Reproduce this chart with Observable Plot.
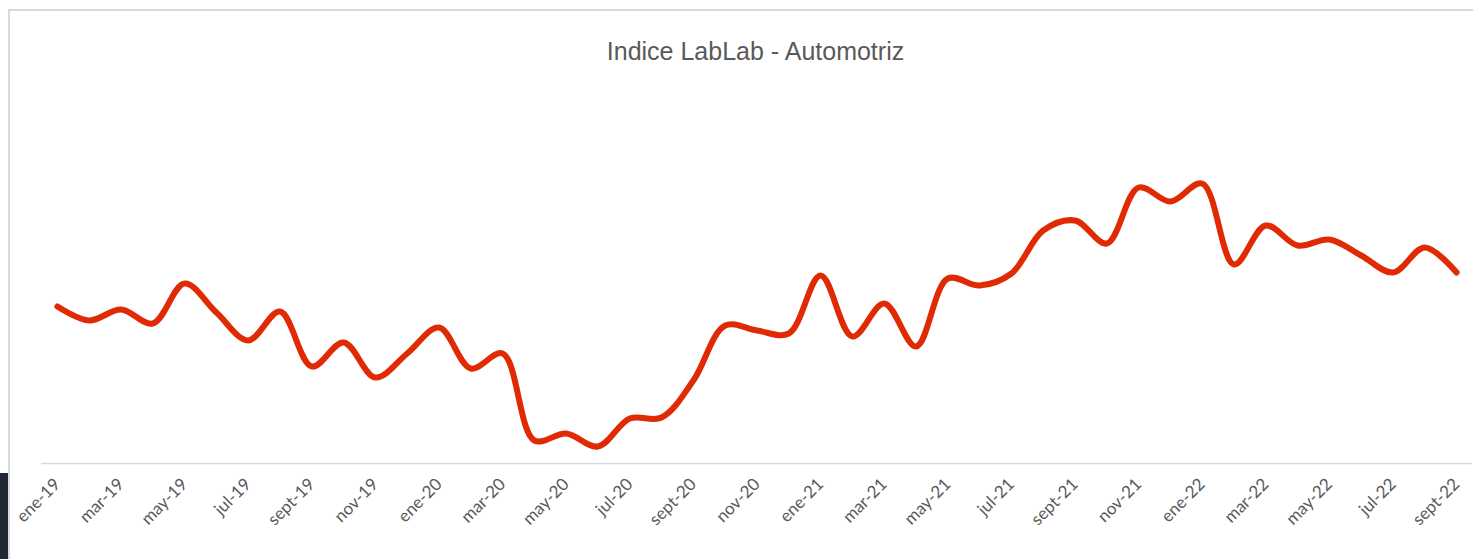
<!DOCTYPE html>
<html>
<head>
<meta charset="utf-8">
<script src="https://cdn.jsdelivr.net/npm/d3@7"></script>
<script src="https://cdn.jsdelivr.net/npm/@observablehq/plot@0.6"></script>
<style>
  html, body { margin: 0; padding: 0; background: #ffffff; }
  body { width: 1473px; height: 559px; position: relative; overflow: hidden; }
  #frame { position: absolute; left: 8px; top: 9px; width: 1480px; height: 600px;
           border-left: 2px solid #d9d9d9; border-top: 2px solid #d9d9d9; box-sizing: border-box; }
  #dark { position: absolute; left: 0; top: 473px; width: 8px; height: 86px; background: #1f2833; }
  #title { position: absolute; left: 0; width: 1511px; top: 37px; text-align: center;
           font-family: "Liberation Sans", Arial, sans-serif; font-size: 25px; color: #595959; }
  #chart { position: absolute; left: 0; top: 0; }
</style>
</head>
<body>
<div id="frame"></div>
<div id="dark"></div>
<div id="title">Indice LabLab - Automotriz</div>
<div id="chart"></div>
<script>
const months = [
  "ene-19","feb-19","mar-19","abr-19","may-19","jun-19","jul-19","ago-19","sept-19","oct-19","nov-19","dic-19",
  "ene-20","feb-20","mar-20","abr-20","may-20","jun-20","jul-20","ago-20","sept-20","oct-20","nov-20","dic-20",
  "ene-21","feb-21","mar-21","abr-21","may-21","jun-21","jul-21","ago-21","sept-21","oct-21","nov-21","dic-21",
  "ene-22","feb-22","mar-22","abr-22","may-22","jun-22","jul-22","ago-22","sept-22"
];
const values = [
  157,143,154,140,180,151,123,152,97,121,86,110,
  136,95,110,23,30,17,45,46,83,138,133,130,
  188,127,160,117,185,178,190,233,243,220,276,262,
  280,199,238,218,224,208,191,216,191
];
const tickLabels = [
  "ene-19","mar-19","may-19","jul-19","sept-19","nov-19","ene-20","mar-20","may-20","jul-20","sept-20","nov-20",
  "ene-21","mar-21","may-21","jul-21","sept-21","nov-21","ene-22","mar-22","may-22","jul-22","sept-22"
];

const data = months.map((m, i) => ({month: m, value: values[i]}));

const chart = Plot.plot({
  width: 1473,
  height: 559,
  marginLeft: 41,
  marginRight: 1,
  marginTop: 63,
  marginBottom: 96,
  style: {background: "transparent", overflow: "visible"},
  x: {type: "point", domain: months, padding: 0.5, label: null},
  y: {domain: [0, 400], axis: null},
  marks: [
    Plot.ruleY([0], {stroke: "#d9d9d9", strokeWidth: 1.5}),
    Plot.axisX({
      ticks: tickLabels,
      tickSize: 0,
      tickRotate: -45,
      tickPadding: 18,
      fontSize: 17,
      fill: "#595959",
      fontFamily: "Lato, 'Open Sans', sans-serif",
      label: null
    }),
    Plot.line(data, {
      x: "month", y: "value",
      curve: "catmull-rom",
      stroke: "#e02a04",
      strokeWidth: 6,
      strokeLinecap: "round",
      strokeLinejoin: "round"
    })
  ]
});
document.getElementById("chart").appendChild(chart);
</script>
</body>
</html>
